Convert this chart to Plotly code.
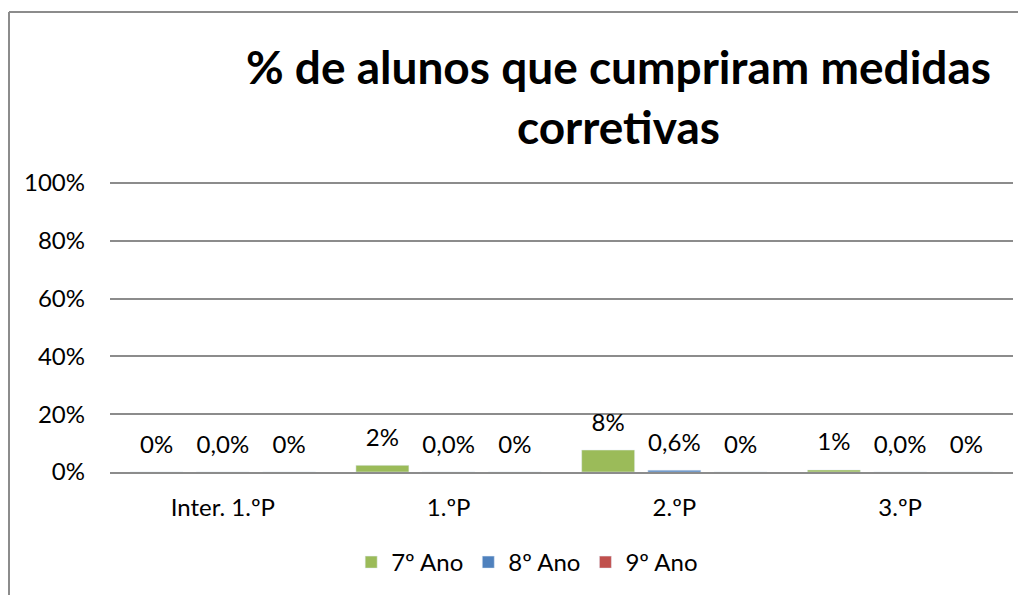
import plotly.graph_objects as go

# dados
periodos = ['Inter. 1.ºP', '1.ºP', '2.ºP', '3.ºP']
ano7 = [0.0, 0.023, 0.076, 0.007]
ano8 = [0.0, 0.0, 0.006, 0.0]
ano9 = [0.0, 0.0, 0.0, 0.0]
ano7_txt = ['0%', '2%', '8%', '1%']
ano8_txt = ['0,0%', '0,0%', '0,6%', '0,0%']
ano9_txt = ['0%', '0%', '0%', '0%']
y_ticks = [0, 0.2, 0.4, 0.6, 0.8, 1.0]
y_labels = ['0%', '20%', '40%', '60%', '80%', '100%']

FONT = 'Lato'
series = [('7º Ano', ano7, ano7_txt, '#9BBB59'),
          ('8º Ano', ano8, ano8_txt, '#4F81BD'),
          ('9º Ano', ano9, ano9_txt, '#C0504D')]

fig = go.Figure()
for nome, vals, txt, cor in series:
    fig.add_trace(go.Bar(name=nome, x=periodos, y=vals, marker_color=cor,
                         hoverinfo='x+y'))
# rótulos de dados (acima das barras)
for nome, vals, txt, cor in series:
    fig.add_trace(go.Scatter(x=periodos, y=vals, text=txt, mode='markers+text',
                             textposition='top center', showlegend=False,
                             marker=dict(size=20, opacity=0), hoverinfo='skip',
                             cliponaxis=False,
                             textfont=dict(family=FONT, size=24, color='#000000')))

fig.update_layout(
    width=1026, height=595, autosize=False,
    margin=dict(l=102, r=21, t=172, b=131),
    paper_bgcolor='white', plot_bgcolor='white',
    barmode='group', bargap=0.12, bargroupgap=0.2,
    scattermode='group', scattergap=0.12,
    font=dict(family=FONT, size=24, color='#000000'),
    title=dict(text='<b>% de alunos que cumpriram medidas<br>corretivas</b>',
               x=0.595, xanchor='center', xref='container',
               y=0.872, yanchor='middle', yref='container',
               font=dict(family=FONT, size=46, color='#000000')),
    legend=dict(orientation='h', x=0.462, xanchor='center', y=-0.31, yanchor='middle',
                font=dict(family=FONT, size=24), itemclick=False),
    showlegend=True,
)
fig.update_yaxes(range=[0, 1.01], tickvals=y_ticks, ticktext=y_labels,
                 showgrid=True, gridcolor='#8C8C8C', gridwidth=2,
                 zeroline=False, showline=False, ticks='', ticklabelstandoff=24)
fig.update_xaxes(showgrid=False, showline=True, linecolor='#8C8C8C', linewidth=2,
                 ticks='', ticklabelstandoff=13)

# moldura do gráfico (canto superior esquerdo visível)
fig.add_shape(type='line', xref='paper', yref='paper',
              x0=(1 - 102) / 903, x1=(1040 - 102) / 903,
              y0=(464 - 4) / 292, y1=(464 - 4) / 292,
              line=dict(color='#8C8C8C', width=2))
fig.add_shape(type='line', xref='paper', yref='paper',
              x0=(1 - 102) / 903, x1=(1 - 102) / 903,
              y0=(464 - 620) / 292, y1=(464 - 4) / 292,
              line=dict(color='#8C8C8C', width=2))

fig.write_html('out.html')
